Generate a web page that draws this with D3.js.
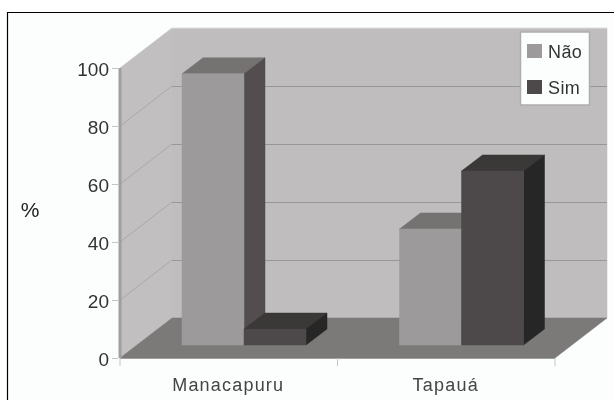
<!DOCTYPE html>
<html><head><meta charset="utf-8">
<script src="https://cdn.jsdelivr.net/npm/d3@7"></script>
<style>html,body{margin:0;padding:0;background:#fff}svg{display:block}</style>
</head><body><svg id="c" width="614" height="400"></svg>
<script>
const categories = ["Manacapuru", "Tapauá"];
const seriesNames = ["Não", "Sim"];
const nao = [93.5, 40];
const sim = [5.5, 60];
const yTicks = [0, 20, 40, 60, 80, 100];
const yLabel = "%";

const svg = d3.select("#c");
const font = "Liberation Sans, Arial, sans-serif";
const defs = svg.append("defs");
defs.append("filter").attr("id","soft").attr("x",0).attr("y",0).attr("width","100%").attr("height","100%")
  .append("feGaussianBlur").attr("stdDeviation",0.55);
const root = svg.append("g").attr("filter","url(#soft)");

root.append("rect").attr("width",614).attr("height",400).attr("fill","#fff");
root.append("rect").attr("x",7).attr("y",12).attr("width",607).attr("height",388).attr("fill","#fcfefe");
root.append("line").attr("x1",7).attr("x2",614).attr("y1",12.5).attr("y2",12.5).attr("stroke","#000").attr("stroke-width",1.2);
root.append("line").attr("x1",7.5).attr("x2",7.5).attr("y1",12).attr("y2",400).attr("stroke","#000").attr("stroke-width",1.2);

const x = d3.scaleBand().domain(categories).range([120,555]);
const y = d3.scaleLinear().domain([0,100]).range([358,68]);
const depthX = 52, depthY = -40;
const poly = (pts,fill)=>root.append("polygon").attr("points",pts.map(p=>p.join(",")).join(" ")).attr("fill",fill).attr("stroke",fill).attr("stroke-width",0.5);

const x0=x.range()[0], x1=x.range()[1], y0=y(0), yT=y(100);
poly([[x0+depthX,yT+depthY],[x1+depthX,yT+depthY],[x1+depthX,y0+depthY],[x0+depthX,y0+depthY]],"#bfbdbd");
poly([[x0,yT],[x0+depthX,yT+depthY],[x0+depthX,y0+depthY],[x0,y0]],"#c1bfbf");
poly([[x0,y0],[x0+depthX,y0+depthY],[x1+depthX,y0+depthY],[x1,y0]],"#7b7979");
root.append("line").attr("x1",x0+depthX).attr("x2",x1+depthX).attr("y1",yT+depthY+0.5).attr("y2",yT+depthY+0.5).attr("stroke","#d0cece");
root.append("line").attr("x1",x0).attr("x2",x1).attr("y1",y0+0.5).attr("y2",y0+0.5).attr("stroke","#a09e9e");

yTicks.filter(t=>t>0 && t<100).forEach(t=>{
  root.append("line").attr("x1",x0).attr("y1",y(t)).attr("x2",x0+depthX).attr("y2",y(t)+depthY).attr("stroke","#a9a7a7");
  root.append("line").attr("x1",x0+depthX).attr("y1",y(t)+depthY+0.5).attr("x2",x1+depthX).attr("y2",y(t)+depthY+0.5).attr("stroke","#989696").attr("stroke-width",1.2);
});
root.append("line").attr("x1",x0).attr("x2",x0).attr("y1",yT).attr("y2",y0).attr("stroke","#a09e9e").attr("stroke-width",3);

const yAxis = d3.axisLeft(y).tickValues(yTicks).tickSize(6).tickPadding(3);
const gy = root.append("g").attr("transform","translate(118,0)").call(yAxis);
gy.select(".domain").remove();
gy.selectAll("line").attr("stroke","#c4c4c4");
gy.selectAll("text").attr("font-family",font).attr("font-size",19).attr("fill","#333").attr("dy","0.4em");
[x0,x0+x.step(),x1].forEach(v=>root.append("line").attr("x1",v).attr("x2",v).attr("y1",y0).attr("y2",y0+8).attr("stroke","#c4c4c4"));
categories.forEach(c=>root.append("text").attr("x",x(c)+x.bandwidth()/2-0.5).attr("y",391).attr("text-anchor","middle").attr("font-family",font).attr("font-size",18).attr("letter-spacing",1.2).attr("fill","#444").text(c));
root.append("text").attr("x",30).attr("y",217).attr("text-anchor","middle").attr("font-family",font).attr("font-size",21).attr("fill","#222").text(yLabel);

const inner = d3.scaleBand().domain(seriesNames).range([62,186]);
const fY = -13, bdX = 21, bdY = -16;
const colors = {
  "Não":{front:"#9c9a9a",top:"#747272",side:"#524e4f"},
  "Sim":{front:"#4e4a4b",top:"#3b3738",side:"#282627"}
};
const drawBar=(cat,name,v)=>{
  const a=x(cat)+inner(name), b=a+inner.bandwidth(), t=y(v)+fY, bt=y0+fY, c=colors[name];
  poly([[a,t],[a+bdX,t+bdY],[b+bdX,t+bdY],[b,t]],c.top);
  poly([[b,t],[b+bdX,t+bdY],[b+bdX,bt+bdY],[b,bt]],c.side);
  poly([[a,bt],[a,t],[b,t],[b,bt]],c.front);
};
categories.forEach((c,i)=>{ drawBar(c,"Não",nao[i]); drawBar(c,"Sim",sim[i]); });

root.append("rect").attr("x",520.5).attr("y",32).attr("width",69).attr("height",73).attr("fill","#fcfefe").attr("stroke","#aeacac").attr("stroke-width",1.5);
seriesNames.forEach((n,i)=>{
  const ly = 44+i*36;
  root.append("rect").attr("x",527).attr("y",ly).attr("width",15).attr("height",14).attr("fill",colors[n].front);
  root.append("text").attr("x",548).attr("y",ly+13.5).attr("font-family",font).attr("font-size",18).attr("letter-spacing",0.4).attr("fill","#333").text(n);
});
</script></body></html>
